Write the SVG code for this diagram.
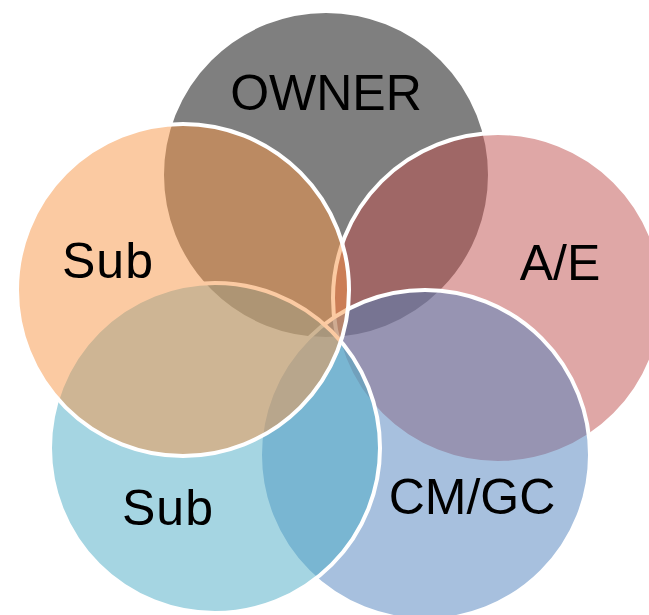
<svg xmlns="http://www.w3.org/2000/svg" width="649" height="615" viewBox="0 0 649 615">
  <style>
    .ring { stroke: #ffffff; stroke-width: 4; fill-opacity: 0.5; }
    .label { font-family: "Liberation Sans", Arial, sans-serif; font-size: 50px; fill: #000000; text-anchor: middle; }
  </style>
  <rect width="649" height="615" fill="#ffffff"/>
  <!-- Five overlapping role circles, painted in order so later fills tint earlier ones -->
  <g id="owner">
    <circle class="ring" cx="326" cy="175" r="164" fill="#000000"/>
    <text class="label" x="326" y="110">OWNER</text>
  </g>
  <g id="ae">
    <circle class="ring" cx="498" cy="298" r="165" fill="#C0504D"/>
    <text class="label" x="560" y="280">A/E</text>
  </g>
  <g id="cmgc">
    <circle class="ring" cx="425" cy="455" r="165" fill="#4F81BD"/>
    <text class="label" x="472" y="514">CM/GC</text>
  </g>
  <g id="sub-lower">
    <circle class="ring" cx="215" cy="448" r="165" fill="#4BACC6"/>
    <text class="label" x="168" y="525" letter-spacing="1">Sub</text>
  </g>
  <g id="sub-upper">
    <circle class="ring" cx="183" cy="290" r="166" fill="#F79646"/>
    <text class="label" x="108" y="278" letter-spacing="1">Sub</text>
  </g>
</svg>
